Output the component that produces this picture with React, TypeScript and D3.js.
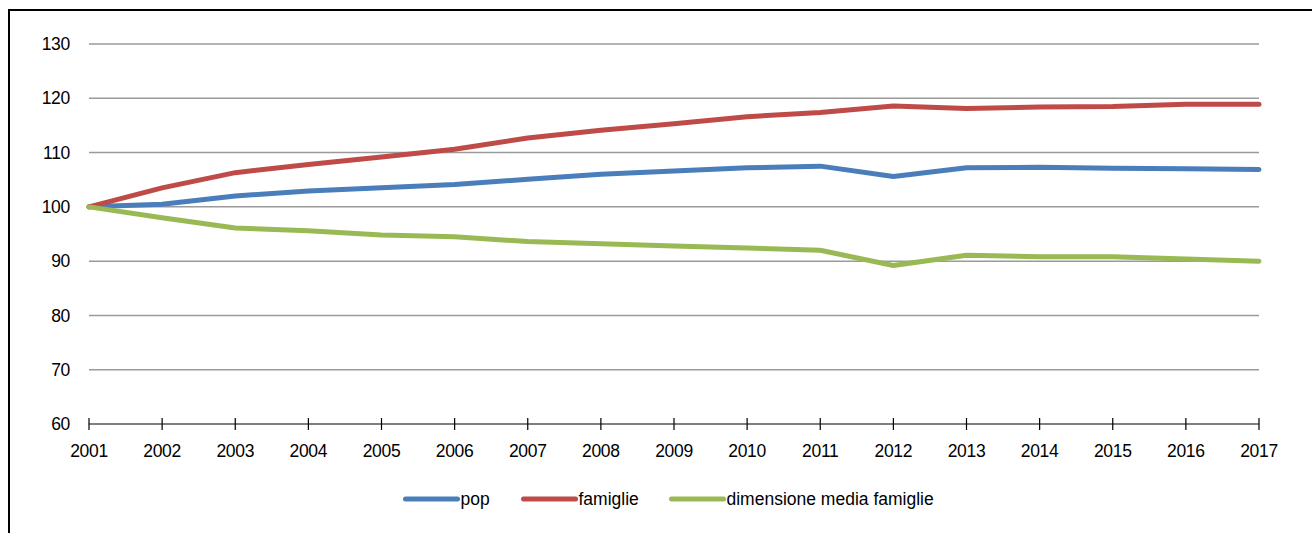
import { useEffect, useRef } from 'react';
import * as d3 from 'd3';

const years = [2001, 2002, 2003, 2004, 2005, 2006, 2007, 2008, 2009, 2010, 2011, 2012, 2013, 2014, 2015, 2016, 2017];
const pop = [100, 100.5, 102, 102.9, 103.5, 104.1, 105.1, 106, 106.6, 107.2, 107.5, 105.6, 107.2, 107.3, 107.1, 107.0, 106.9];
const famiglie = [100, 103.5, 106.3, 107.8, 109.2, 110.6, 112.7, 114.1, 115.3, 116.6, 117.4, 118.6, 118.1, 118.4, 118.5, 118.9, 118.9];
const dimensione = [100, 98, 96.1, 95.6, 94.8, 94.5, 93.6, 93.2, 92.8, 92.4, 92.0, 89.2, 91.1, 90.8, 90.8, 90.4, 90.0];
const yTicks = [60, 70, 80, 90, 100, 110, 120, 130];

const series = [
  { label: 'pop', values: pop, color: '#4a7ebb' },
  { label: 'famiglie', values: famiglie, color: '#be4b48' },
  { label: 'dimensione media famiglie', values: dimensione, color: '#98b954' }
];

export default function App() {
  const svgRef = useRef<SVGSVGElement>(null);

  useEffect(() => {
    if (!svgRef.current) return;
    const svg = d3.select(svgRef.current);
    svg.selectAll('*').remove();

    const width = 1312;
    const height = 533;
    const font = '"Liberation Sans", Arial, sans-serif';

    svg.attr('width', width).attr('height', height);

    // frame (cut off on right and bottom)
    svg.append('path')
      .attr('d', `M9,${height + 5} V10 H${width + 5}`)
      .attr('fill', 'none')
      .attr('stroke', '#000')
      .attr('stroke-width', 2);

    const xScale = d3.scaleLinear().domain([2001, 2017]).range([89, 1259]);
    const yScale = d3.scaleLinear().domain([60, 130]).range([424, 44]);

    // grid lines
    svg.append('g')
      .selectAll('line')
      .data(yTicks.filter(t => t > 60))
      .enter().append('line')
      .attr('x1', xScale(2001))
      .attr('x2', xScale(2017))
      .attr('y1', d => yScale(d))
      .attr('y2', d => yScale(d))
      .attr('stroke', '#9a9a9a')
      .attr('stroke-width', 1.5);

    // y labels
    svg.append('g')
      .selectAll('text')
      .data(yTicks)
      .enter().append('text')
      .attr('x', 70)
      .attr('y', d => yScale(d))
      .attr('dy', '0.35em')
      .attr('text-anchor', 'end')
      .style('font-family', font)
      .style('font-size', '17.5px')
      .style('letter-spacing', '-0.3px')
      .style('fill', '#000')
      .text(d => d);

    // x axis
    const xAxis = svg.append('g').attr('transform', `translate(0,${yScale(60)})`);
    xAxis.append('line')
      .attr('x1', xScale(2001))
      .attr('x2', xScale(2017))
      .attr('stroke', '#000')
      .attr('stroke-width', 1.2);
    xAxis.selectAll('line.tick')
      .data(years)
      .enter().append('line')
      .attr('class', 'tick')
      .attr('x1', d => xScale(d))
      .attr('x2', d => xScale(d))
      .attr('y1', -6)
      .attr('y2', 6)
      .attr('stroke', '#000')
      .attr('stroke-width', 1.2);
    xAxis.selectAll('text')
      .data(years)
      .enter().append('text')
      .attr('x', d => xScale(d))
      .attr('y', 27)
      .attr('dy', '0.35em')
      .attr('text-anchor', 'middle')
      .style('font-family', font)
      .style('font-size', '17.5px')
      .style('letter-spacing', '-0.3px')
      .style('fill', '#000')
      .text(d => d);

    // lines
    series.forEach(s => {
      const line = d3.line<number>()
        .x((_, i) => xScale(years[i]))
        .y(d => yScale(d));
      svg.append('path')
        .datum(s.values)
        .attr('fill', 'none')
        .attr('stroke', s.color)
        .attr('stroke-width', 5)
        .attr('stroke-linecap', 'round')
        .attr('stroke-linejoin', 'round')
        .attr('d', line);
    });

    // legend
    const legendX = [405.5, 523.5, 671.5];
    const legend = svg.append('g').attr('transform', 'translate(0,499)');
    series.forEach((s, i) => {
      const g = legend.append('g').attr('transform', `translate(${legendX[i]},0)`);
      g.append('line')
        .attr('x1', 0)
        .attr('x2', 52)
        .attr('stroke', s.color)
        .attr('stroke-width', 5)
        .attr('stroke-linecap', 'round');
      g.append('text')
        .attr('x', 55)
        .attr('dy', '0.35em')
        .style('font-family', font)
        .style('font-size', '17.5px')
        .style('fill', '#000')
        .text(s.label);
    });
  }, []);

  return (
    <div style={{ position: 'absolute', left: 0, top: 0 }}>
      <svg ref={svgRef} style={{ display: 'block' }}></svg>
    </div>
  );
}
